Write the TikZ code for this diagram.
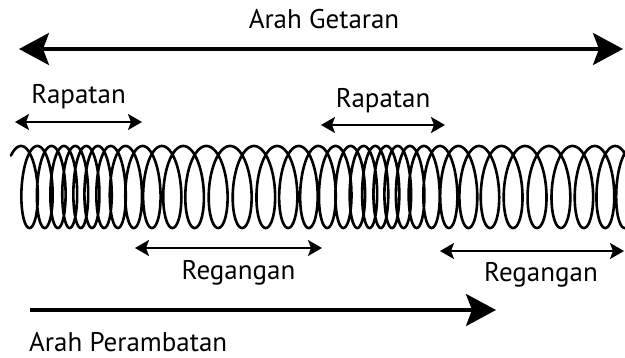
\documentclass[tikz,border=0pt]{standalone}
\usepackage{fontspec}
\setmainfont{PT Sans}
\usetikzlibrary{arrows.meta}
\begin{document}
\begin{tikzpicture}[x=1pt,y=-1pt,
  lbl/.style={font=\fontsize{27}{30}\selectfont, inner sep=0pt, anchor=base},
  bigtip/.tip={Stealth[length=30pt,width=32pt,inset=6pt]},
  smalltip/.tip={Stealth[length=14pt,width=16pt,inset=3pt]},
  bigarrow/.style={line width=3.4pt},
  smallarrow/.style={line width=2pt},
  coil/.style={line width=2.6pt, line join=round, line cap=round}]
\useasboundingbox (0,0) rectangle (625,358);

% vibration direction
\node[lbl] (getaran) at (324,29) {Arah Getaran};
\coordinate (g1) at (19,49);
\coordinate (g2) at (623,49);
\draw[bigarrow, bigtip-bigtip] (g1) -- (g2);

% compressions
\node[lbl] (rap1) at (78.5,104) {Rapatan};
\coordinate (r1a) at (15,122);
\coordinate (r1b) at (142,122);
\draw[smallarrow, smalltip-smalltip] (r1a) -- (r1b);

\node[lbl] (rap2) at (383,108) {Rapatan};
\coordinate (r2a) at (321,125);
\coordinate (r2b) at (445,125);
\draw[smallarrow, smalltip-smalltip] (r2a) -- (r2b);

% the spring
\begin{scope}
  \clip (0,0) rectangle (625,358);
  \draw[coil] plot[domain=-0.7:226, samples=4000, variable=\t]
    ({21 + 2.785*\t + 18*(cos(deg(\t/17.4)) - 1) + (12.5 - 2.5*sin(deg(\t/17.4)))*sin(deg(\t))},
     {187 - 41*cos(deg(\t))});
\end{scope}

% rarefactions
\coordinate (s1a) at (135,248);
\coordinate (s1b) at (322,248);
\draw[smallarrow, smalltip-smalltip] (s1a) -- (s1b);
\node[lbl] (reg1) at (238.5,280) {Regangan};

\coordinate (s2a) at (440,251);
\coordinate (s2b) at (624,251);
\draw[smallarrow, smalltip-smalltip] (s2a) -- (s2b);
\node[lbl] (reg2) at (541,282) {Regangan};

% propagation direction
\coordinate (p1) at (30,310);
\coordinate (p2) at (496,310);
\draw[bigarrow, -bigtip] (p1) -- (p2);
\node[lbl, anchor=base west] (perambatan) at (29,352) {Arah Perambatan};
\end{tikzpicture}
\end{document}
